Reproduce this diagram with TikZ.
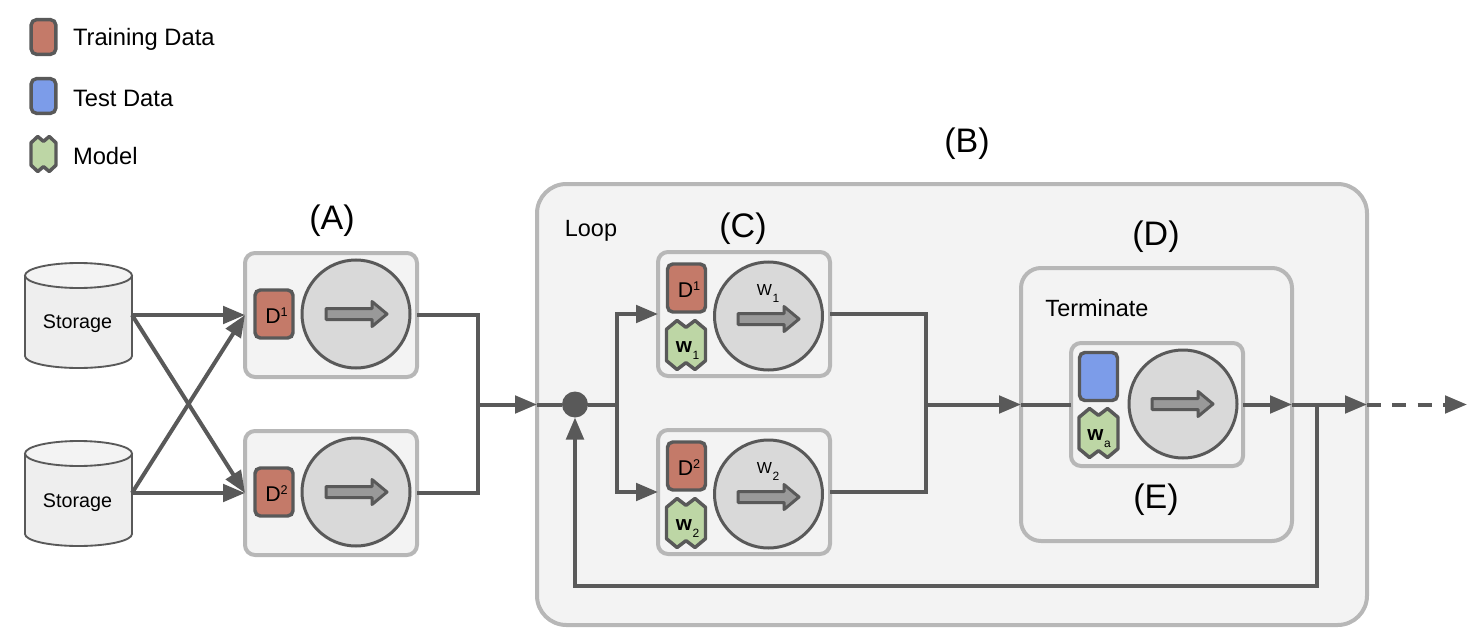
\documentclass[tikz,border=0pt]{standalone}
\usepackage{fontspec}
\setmainfont{Liberation Sans}
\usetikzlibrary{arrows.meta}
\definecolor{ink}{HTML}{595959}
\definecolor{panelline}{HTML}{B7B7B7}
\definecolor{panelfill}{HTML}{F3F3F3}
\definecolor{bodycol}{HTML}{EEEEEE}
\definecolor{traincol}{HTML}{C47A69}
\definecolor{testcol}{HTML}{7C9CE9}
\definecolor{modelcol}{HTML}{BDD6A5}
\definecolor{disccol}{HTML}{D9D9D9}
\definecolor{blockcol}{HTML}{999999}
\newcommand{\fsz}[1]{\fontsize{#1}{#1}\selectfont}
\newcommand{\supt}[2]{#1\raisebox{5.25pt}{\fsz{9.5}#2}}
\newcommand{\subt}[2]{#1\kern.5pt\raisebox{-5.5pt}{\fsz{9}#2}}
\tikzset{
  x=.75pt,y=-.75pt,
  panel/.style={draw=panelline,fill=panelfill,line width=3pt,rounded corners=7.5pt,outer sep=0pt,inner sep=0pt},
  smallpanel/.style={panel,minimum width=129pt,minimum height=93pt},
  databox/.style={draw=ink,line width=2.6pt,rounded corners=4pt,minimum width=28.5pt,minimum height=36pt,inner sep=0pt},
  legendbox/.style={databox,minimum width=18.5pt,minimum height=26pt},
  disc/.style={circle,draw=ink,fill=disccol,line width=2.25pt,minimum size=81pt,inner sep=0pt},
  blockarrow/.style={draw=ink,fill=blockcol,line width=2.25pt,line join=round},
  modelbody/.style={draw=ink,fill=modelcol,line width=2.6pt,line join=round},
  storagebody/.style={draw=ink,line width=1.4pt},
  txt/.style={inner sep=0pt,outer sep=0pt,text=black,anchor=base},
  dtxt/.style={txt,font=\fsz{16}},
  wtxt/.style={txt,font=\fsz{15.5}\bfseries},
  wire/.style={draw=ink,line width=3pt},
  tipwire/.style={wire,-{Triangle[length=16.5pt,width=13pt]}},
}
% centre x, centre y, width, height (px)
\newcommand{\modelshape}[4]{%
  \draw[modelbody] (#1-#3/2,#2-.32*#4) -- (#1-.23*#3,#2-#4/2) -- (#1,#2-.36*#4) -- (#1+.23*#3,#2-#4/2)
    -- (#1+#3/2,#2-.32*#4) -- (#1+#3/2,#2+.32*#4) -- (#1+.23*#3,#2+#4/2) -- (#1,#2+.36*#4)
    -- (#1-.23*#3,#2+#4/2) -- (#1-#3/2,#2+.32*#4) -- cycle;}
% left x, centre y
\newcommand{\blockshape}[2]{%
  \draw[blockarrow] (#1,#2-5.5) -- (#1+46,#2-5.5) -- (#1+46,#2-12.5) -- (#1+61,#2) -- (#1+46,#2+12.5)
    -- (#1+46,#2+5.5) -- (#1,#2+5.5) -- cycle;}
% top y
\newcommand{\storageshape}[1]{%
  \draw[storagebody,fill=bodycol] (78.5,#1+93) ellipse[x radius=53.5,y radius=12];
  \fill[bodycol] (25,#1+12) rectangle (132,#1+93);
  \draw[storagebody] (25,#1+12) -- (25,#1+93);
  \draw[storagebody] (132,#1+12) -- (132,#1+93);
  \draw[storagebody,fill=panelfill] (78.5,#1+12.5) ellipse[x radius=53.5,y radius=12.5];}
\begin{document}
\begin{tikzpicture}
\useasboundingbox (0,0) rectangle (1478,642);
% legend
\node[legendbox,fill=traincol] (legtrain) at (43.5,37) {};
\node[legendbox,fill=testcol] (legtest) at (43.5,96) {};
\modelshape{43.5}{154}{25}{35}
\node[txt,anchor=base west,font=\fsz{17.8}] (legtraintxt) at (73,46) {Training Data};
\node[txt,anchor=base west,font=\fsz{17.8}] (legtesttxt) at (73,107) {Test Data};
\node[txt,anchor=base west,font=\fsz{17.8}] (legmodeltxt) at (73,164) {Model};
% outer panels
\node[panel,rounded corners=22pt,minimum width=622.5pt,minimum height=330.75pt] (loop) at (952,404.5) {};
\node[panel,rounded corners=15pt,minimum width=203.25pt,minimum height=204.75pt] (term) at (1156.5,404.5) {};
% storage
\storageshape{263}
\storageshape{441}
\node[txt,font=\fsz{14.8}] (st1txt) at (77.5,328) {Storage};
\node[txt,font=\fsz{14.8}] (st2txt) at (77.5,507) {Storage};
\node[inner sep=0,outer sep=0,minimum width=80.25pt,minimum height=10pt] (st1) at (78.5,315) {};
\node[inner sep=0,outer sep=0,minimum width=80.25pt,minimum height=10pt] (st2) at (78.5,493) {};
% stage A
\node[smallpanel] (a1) at (331,315) {};
\node[smallpanel] (a2) at (331,493) {};
\node[databox,fill=traincol] (a1d) at (274,314) {};
\node[databox,fill=traincol] (a2d) at (274,492) {};
\node[dtxt] (a1dt) at (276.5,323) {\supt{D}{1}};
\node[dtxt] (a2dt) at (276.5,501) {\supt{D}{2}};
\node[disc] (a1c) at (356,314) {};
\node[disc] (a2c) at (356,492) {};
\blockshape{326}{314}
\blockshape{326}{492}
% stage C
\node[smallpanel] (c1) at (744,314) {};
\node[smallpanel] (c2) at (744,492) {};
\node[databox,fill=traincol] (c1d) at (686.5,288) {};
\node[databox,fill=traincol] (c2d) at (686.5,466) {};
\node[dtxt] (c1dt) at (689,297) {\supt{D}{1}};
\node[dtxt] (c2dt) at (689,475) {\supt{D}{2}};
\modelshape{686}{345}{39}{49}
\modelshape{686}{523}{39}{49}
\node[wtxt] (c1w) at (687.5,352) {\subt{w}{\mdseries 1}};
\node[wtxt] (c2w) at (687.5,530) {\subt{w}{\mdseries 2}};
\node[disc] (c1c) at (768.5,316) {};
\node[disc] (c2c) at (768.5,494) {};
\blockshape{738}{319}
\blockshape{738}{497}
\node[txt,font=\fsz{12}] (c1wl) at (768,295) {\subt{W}{1}};
\node[txt,font=\fsz{12}] (c2wl) at (768,473) {\subt{W}{2}};
% stage E
\node[smallpanel,minimum height=92.25pt] (e) at (1157,404.5) {};
\node[databox,fill=testcol] (etest) at (1098.5,376.5) {};
\modelshape{1098.5}{433}{39}{49}
\node[wtxt] (ew) at (1099,440) {\subt{w}{\mdseries a}};
\node[disc] (ec) at (1183,404) {};
\blockshape{1152}{404}
% labels
\node[txt,font=\fsz{25.5}] (lA) at (332,229) {(A)};
\node[txt,font=\fsz{25.5}] (lB) at (967,152) {(B)};
\node[txt,font=\fsz{25.5}] (lC) at (743,237) {(C)};
\node[txt,font=\fsz{25.5}] (lD) at (1156,245) {(D)};
\node[txt,font=\fsz{25.5}] (lE) at (1156,508) {(E)};
\node[txt,font=\fsz{17.6}] (lLoop) at (591,236) {Loop};
\node[txt,font=\fsz{17.6}] (lTerm) at (1097,316) {Terminate};
% junctions
\coordinate (j1) at (478,404.5);
\coordinate (j2) at (617,404.5);
\coordinate (j3) at (926,404.5);
\coordinate (fb) at (1317,404.5);
\coordinate (fbc) at (1317,586);
\coordinate (out) at (1467,404.5);
\node[circle,fill=ink,minimum size=19.5pt,inner sep=0pt,outer sep=0pt] (dot) at (575,404.5) {};
% connectors
\draw[tipwire] (st1.east) -- (a1.west);
\draw[tipwire] (st1.east) -- (a2.west);
\draw[tipwire] (st2.east) -- (a1.west);
\draw[tipwire] (st2.east) -- (a2.west);
\draw[wire] (a1.east) -| (j1);
\draw[wire] (a2.east) -| (j1);
\draw[tipwire] (j1) -- (loop.west);
\draw[wire] (loop.west) -- (dot);
\draw[wire] (dot) -- (j2);
\draw[tipwire] (j2) |- (c1.west);
\draw[tipwire] (j2) |- (c2.west);
\draw[wire] (c1.east) -| (j3);
\draw[wire] (c2.east) -| (j3);
\draw[tipwire] (j3) -- (term.west);
\draw[wire] (term.west) -- (e.west);
\draw[tipwire] (e.east) -- (term.east);
\draw[tipwire] (term.east) -- (loop.east);
\draw[tipwire,dash pattern=on 10.5pt off 8.5pt] (loop.east) -- (out);
\draw[tipwire] (fb) -- (fbc) -| (dot.south);
\end{tikzpicture}
\end{document}
